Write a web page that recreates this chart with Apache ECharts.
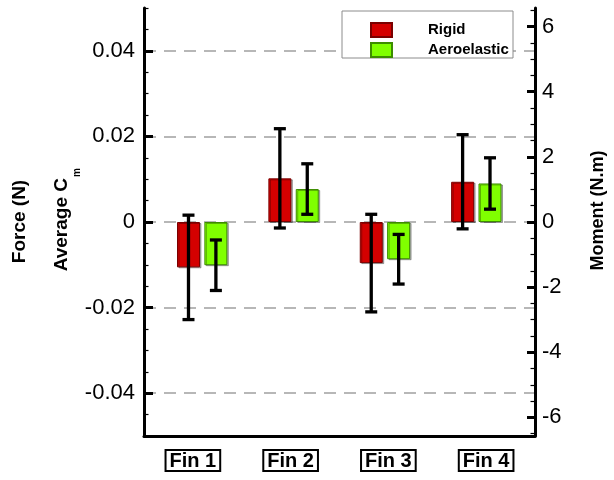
<!DOCTYPE html>
<html>
<head>
<meta charset="utf-8">
<script src="https://cdn.jsdelivr.net/npm/echarts@6/dist/echarts.min.js"></script>
<style>html,body{margin:0;padding:0;background:#fff;}#chart{width:614px;height:480px;}</style>
</head>
<body>
<div id="chart"></div>
<script>
const categories = ['Fin 1', 'Fin 2', 'Fin 3', 'Fin 4'];
const rigidMean = [-0.0106, 0.0102, -0.0096, 0.0094];
const rigidErr = [0.0122, 0.0116, 0.0114, 0.0110];
const aeroMean = [-0.0101, 0.0077, -0.0087, 0.0090];
const aeroErr = [0.0059, 0.0059, 0.0058, 0.0060];
const leftTicks = [-0.04, -0.02, 0, 0.02, 0.04];
const rightTicks = [-6, -4, -2, 0, 2, 4, 6];
const leftMin = -0.05, leftMax = 0.05;
const rightMin = -6.57, rightMax = 6.57;

const leftMinor = [];
for (let i = -9; i <= 10; i++) leftMinor.push(+(i * 0.005).toFixed(3));
const rightMinor = [];
for (let i = -13; i <= 13; i++) rightMinor.push(i * 0.5);

const FONT = '"Liberation Sans", Arial, Helvetica, sans-serif';
const chart = echarts.init(document.getElementById('chart'));

function errItem(offset) {
  return function (params, api) {
    const idx = api.value(0), v = api.value(1), e = api.value(2);
    const c = api.coord([idx, v]);
    const t = api.coord([idx, v + e]);
    const b = api.coord([idx, v - e]);
    const x = c[0] + offset;
    const st = { stroke: '#000', lineWidth: 3.3 };
    return {
      type: 'group',
      children: [
        { type: 'line', shape: { x1: x, y1: t[1], x2: x, y2: b[1] }, style: st },
        { type: 'line', shape: { x1: x - 6, y1: t[1], x2: x + 6, y2: t[1] }, style: st },
        { type: 'line', shape: { x1: x - 6, y1: b[1], x2: x + 6, y2: b[1] }, style: st }
      ]
    };
  };
}

const option = {
  backgroundColor: '#fff',
  animation: false,
  grid: [
    { left: 144, right: 79, top: 8, bottom: 44 },
    { left: 156.5, right: 92, top: 8, bottom: 44 }
  ],
  legend: {
    orient: 'vertical',
    left: 370,
    top: 22,
    padding: 0,
    itemWidth: 21,
    itemHeight: 14,
    itemGap: 4,
    icon: 'rect',
    z: 10,
    formatter: function (name) { return '{s| }{n|' + name + '}'; },
    textStyle: {
      rich: {
        s: { width: 31 },
        n: { fontFamily: FONT, fontWeight: 'bold', fontSize: 15, color: '#000' }
      }
    },
    data: ['Rigid', 'Aeroelastic']
  },
  xAxis: [
    {
      type: 'category', gridIndex: 0, data: categories,
      axisLine: { onZero: false, lineStyle: { color: '#000', width: 3 } },
      axisTick: { show: false },
      axisLabel: {
        margin: 14, color: '#000', fontFamily: FONT, fontWeight: 'bold', fontSize: 20,
        borderColor: '#000', borderWidth: 2, padding: [1, 4, 0, 4], lineHeight: 20
      },
      splitLine: { show: false }
    },
    { type: 'category', gridIndex: 1, data: categories, show: false }
  ],
  yAxis: [
    {
      type: 'value', gridIndex: 0, position: 'left', min: leftMin, max: leftMax,
      axisLine: { show: true, onZero: false, lineStyle: { color: '#000', width: 3 } },
      axisTick: { show: true, inside: true, length: 9, customValues: leftTicks, lineStyle: { color: '#000', width: 3 } },
      axisLabel: {
        customValues: leftTicks, margin: 9, color: '#000', fontFamily: FONT, fontSize: 22,
        formatter: function (v) { return v === 0 ? '0' : v.toFixed(2); }
      },
      splitLine: { show: true, lineStyle: { color: '#a0a0a0', width: 1.5, type: [12, 8] } }
    },
    {
      type: 'value', gridIndex: 0, position: 'left', min: leftMin, max: leftMax,
      axisLine: { show: false, onZero: false },
      axisTick: { show: true, inside: true, length: 4.5, customValues: leftMinor, lineStyle: { color: '#000', width: 1.2 } },
      axisLabel: { show: false },
      splitLine: { show: false }
    },
    {
      type: 'value', gridIndex: 0, position: 'right', min: rightMin, max: rightMax,
      axisLine: { show: true, onZero: false, lineStyle: { color: '#000', width: 3 } },
      axisTick: { show: true, inside: true, length: 8, customValues: rightTicks, lineStyle: { color: '#000', width: 3 } },
      axisLabel: {
        customValues: rightTicks, margin: 7, color: '#000', fontFamily: FONT, fontSize: 22,
        formatter: function (v) { return String(v); }
      },
      splitLine: { show: false }
    },
    {
      type: 'value', gridIndex: 0, position: 'right', min: rightMin, max: rightMax,
      axisLine: { show: false, onZero: false },
      axisTick: { show: true, inside: true, length: 4.5, customValues: rightMinor, lineStyle: { color: '#000', width: 1.2 } },
      axisLabel: { show: false },
      splitLine: { show: false }
    },
    { type: 'value', gridIndex: 1, min: leftMin, max: leftMax, show: false, splitLine: { show: false } }
  ],
  graphic: [
    {
      type: 'rect', z: 5, shape: { x: 342, y: 11, width: 171, height: 47 },
      style: { fill: '#fff', stroke: '#8c8c8c', lineWidth: 1 }
    },
    {
      type: 'text', x: 19.5, y: 221.5, rotation: Math.PI / 2,
      style: { text: 'Force (N)', font: 'bold 19px ' + FONT, fill: '#000', align: 'center', verticalAlign: 'middle', textAlign: 'center', textVerticalAlign: 'middle' }
    },
    {
      type: 'group', x: 62, y: 178, rotation: Math.PI / 2,
      children: [
        { type: 'text', x: 0, y: 0, style: { text: 'Average C', font: 'bold 19px ' + FONT, fill: '#000', align: 'right', verticalAlign: 'middle', textAlign: 'right', textVerticalAlign: 'middle' } },
        { type: 'text', x: 1, y: 15, style: { text: 'm', font: 'bold 10px ' + FONT, fill: '#000', align: 'left', verticalAlign: 'middle', textAlign: 'left', textVerticalAlign: 'middle' } }
      ]
    },
    {
      type: 'text', x: 598, y: 210.5, rotation: Math.PI / 2,
      style: { text: 'Moment (N.m)', font: 'bold 18px ' + FONT, fill: '#000', align: 'center', verticalAlign: 'middle', textAlign: 'center', textVerticalAlign: 'middle' }
    }
  ],
  series: [
    {
      name: 'Rigid', type: 'bar', xAxisIndex: 1, yAxisIndex: 4,
      data: rigidMean, barWidth: 23, barGap: '19%',
      itemStyle: { color: '#d40000', borderColor: '#7a0000', borderWidth: 1, shadowColor: 'rgba(0,0,0,0.3)', shadowOffsetX: 1.5, shadowOffsetY: 1, shadowBlur: 0 }
    },
    {
      name: 'Aeroelastic', type: 'bar', xAxisIndex: 1, yAxisIndex: 4,
      data: aeroMean, barWidth: 23, barGap: '19%',
      itemStyle: { color: '#80ff00', borderColor: '#3c8c00', borderWidth: 1, shadowColor: 'rgba(0,0,0,0.3)', shadowOffsetX: 1.5, shadowOffsetY: 1, shadowBlur: 0 }
    },
    {
      type: 'custom', xAxisIndex: 1, yAxisIndex: 4, z: 5,
      renderItem: errItem(-13.7),
      encode: { x: 0, y: 1 },
      data: rigidMean.map(function (v, i) { return [i, v, rigidErr[i]]; })
    },
    {
      type: 'custom', xAxisIndex: 1, yAxisIndex: 4, z: 5,
      renderItem: errItem(13.7),
      encode: { x: 0, y: 1 },
      data: aeroMean.map(function (v, i) { return [i, v, aeroErr[i]]; })
    }
  ]
};
chart.setOption(option);
</script>
</body>
</html>
